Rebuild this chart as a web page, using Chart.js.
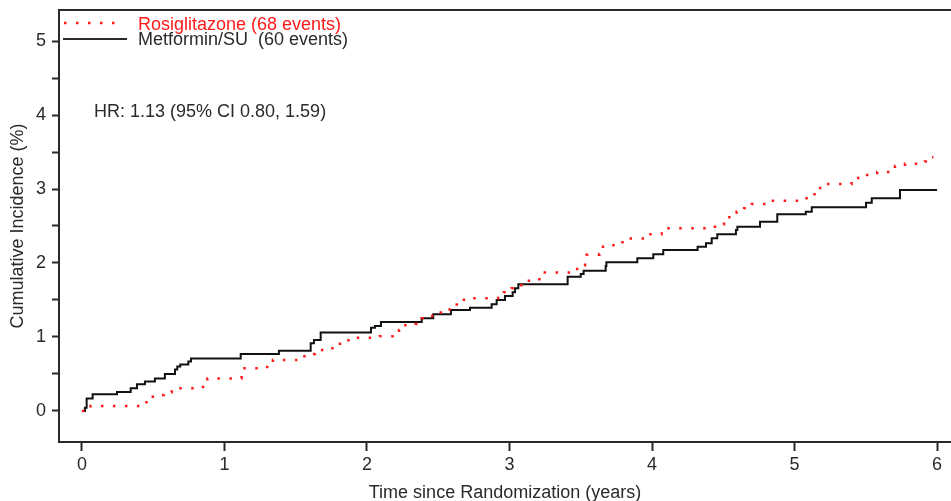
<!DOCTYPE html>
<html>
<head>
<meta charset="utf-8">
<script src="https://cdn.jsdelivr.net/npm/chart.js@4.4.1/dist/chart.umd.min.js"></script>
<style>
    html, body { margin: 0; padding: 0; background: #fff; }
    #wrap { width: 951px; height: 501px; }
</style>
</head>
<body>
<div id="wrap"><canvas id="kmChart" width="951" height="501"></canvas></div>
<script>
// Cumulative incidence by arm (step curves)

const seriesNames = ['Rosiglitazone (68 events)', 'Metformin/SU  (60 events)'];
const hrText = 'HR: 1.13 (95% CI 0.80, 1.59)';
const xTitle = 'Time since Randomization (years)';
const yTitle = 'Cumulative Incidence (%)';

// Rosiglitazone (red dotted)
const rosTimes = [0, 0.06, 0.42, 0.465, 0.52, 0.575, 0.63, 0.85, 0.88, 1.12, 1.30, 1.34,
    1.52, 1.58, 1.635, 1.70, 1.77, 1.81, 1.87, 2.09, 2.18, 2.225, 2.25, 2.34, 2.384, 2.42,
    2.49, 2.58, 2.63, 2.68, 2.92, 2.96, 3.015, 3.05, 3.10, 3.21, 3.45, 3.475, 3.53, 3.54,
    3.63, 3.646, 3.717, 3.78, 3.834, 3.958, 4.068, 4.395, 4.454, 4.505, 4.543, 4.594, 4.646,
    4.70, 4.828, 5.06, 5.12, 5.18, 5.40, 5.447, 5.58, 5.705, 5.775, 5.916, 5.958, 5.975];
const rosValues = [0, 0.068, 0.118, 0.194, 0.216, 0.253, 0.307, 0.365, 0.44, 0.577, 0.635, 0.69,
    0.74, 0.77, 0.825, 0.848, 0.88, 0.93, 0.99, 1.01, 1.03, 1.095, 1.16, 1.175, 1.253, 1.284,
    1.33, 1.41, 1.477, 1.523, 1.554, 1.604, 1.658, 1.70, 1.761, 1.87, 1.89, 1.97, 2.02, 2.11,
    2.12, 2.22, 2.24, 2.28, 2.33, 2.388, 2.469, 2.49, 2.523, 2.58, 2.65, 2.693, 2.739,
    2.797, 2.842, 2.874, 2.928, 3.067, 3.12, 3.19, 3.23, 3.31, 3.34, 3.37, 3.43, 3.43];

// Metformin/SU (black solid)
const metTimes = [0, 0.021, 0.033, 0.075, 0.246, 0.342, 0.386, 0.442, 0.512, 0.582, 0.653,
    0.669, 0.69, 0.746, 0.765, 1.114, 1.382, 1.605, 1.628, 1.675, 2.028, 2.056, 2.098, 2.384,
    2.465, 2.589, 2.723, 2.875, 2.91, 2.968, 3.022, 3.039, 3.062, 3.408, 3.50, 3.52, 3.675,
    3.68, 3.897, 4.009, 4.079, 4.32, 4.379, 4.419, 4.458, 4.589, 4.599, 4.758, 4.879, 5.079,
    5.121, 5.502, 5.542, 5.74, 6.0];
const metValues = [0, 0.045, 0.17, 0.226, 0.257, 0.307, 0.36, 0.40, 0.44, 0.50, 0.56,
    0.60, 0.63, 0.67, 0.71, 0.77, 0.815, 0.915, 0.96, 1.06, 1.126, 1.149, 1.203, 1.253,
    1.307, 1.365, 1.396, 1.442, 1.50, 1.554, 1.604, 1.658, 1.712, 1.815, 1.851, 1.896, 1.96,
    2.01, 2.064, 2.118, 2.176, 2.22, 2.266, 2.334, 2.388, 2.446, 2.49, 2.558, 2.658, 2.693,
    2.753, 2.815, 2.874, 2.986, 2.986];

const xTicks = [0, 1, 2, 3, 4, 5, 6];
const yTicks = [0, 0.5, 1, 1.5, 2, 2.5, 3, 3.5, 4, 4.5, 5];

const FONT = "'Liberation Sans', Arial, sans-serif";
const INK = '#2a2a2a';
const RED = '#ff1a1a';

const toPoints = (xs, ys) => xs.map((x, i) => ({ x: x, y: ys[i] }));

// Top frame line, legend and HR note drawn on the canvas
const annotations = {
    id: 'annotations',
    afterDraw(chart) {
        const { ctx, chartArea } = chart;
        ctx.save();

        ctx.strokeStyle = INK;
        ctx.lineWidth = 2;
        ctx.beginPath();
        ctx.moveTo(chartArea.left - 1, chartArea.top);
        ctx.lineTo(chartArea.right, chartArea.top);
        ctx.stroke();

        // legend samples
        ctx.strokeStyle = RED;
        ctx.lineWidth = 2.5;
        ctx.setLineDash([2.5, 9.5]);
        ctx.beginPath();
        ctx.moveTo(64, 23);
        ctx.lineTo(118, 23);
        ctx.stroke();

        ctx.setLineDash([]);
        ctx.strokeStyle = INK;
        ctx.lineWidth = 2;
        ctx.beginPath();
        ctx.moveTo(63, 39);
        ctx.lineTo(127, 39);
        ctx.stroke();

        ctx.font = `18px ${FONT}`;
        ctx.textBaseline = 'middle';
        ctx.textAlign = 'left';
        ctx.fillStyle = RED;
        ctx.fillText(seriesNames[0], 138, 25);
        ctx.fillStyle = INK;
        ctx.fillText(seriesNames[1], 138, 40);

        ctx.fillText(hrText, 94, 112);
        ctx.restore();
    }
};

const ctx = document.getElementById('kmChart');

new Chart(ctx, {
    type: 'line',
    data: {
        datasets: [
            {
                label: seriesNames[0],
                data: toPoints(rosTimes, rosValues),
                borderColor: RED,
                borderWidth: 2.5,
                borderDash: [2.5, 9.5],
                stepped: 'before',
                pointRadius: 0,
                fill: false
            },
            {
                label: seriesNames[1],
                data: toPoints(metTimes, metValues),
                borderColor: '#111',
                borderWidth: 2,
                stepped: 'before',
                pointRadius: 0,
                fill: false
            }
        ]
    },
    options: {
        responsive: false,
        animation: false,
        layout: {
            padding: { top: 10, right: 0, left: 0, bottom: 0 }
        },
        plugins: {
            legend: { display: false },
            tooltip: { enabled: false }
        },
        scales: {
            x: {
                type: 'linear',
                min: -0.161,
                max: 6.098,
                afterBuildTicks: (scale) => {
                    scale.ticks = xTicks.map(v => ({ value: v }));
                },
                afterFit: (scale) => {
                    scale.height = 59;
                    scale.paddingLeft = 0;
                    scale.paddingRight = 0;
                },
                grid: {
                    drawOnChartArea: false,
                    tickLength: 9,
                    tickWidth: 2,
                    tickColor: INK
                },
                border: { display: true, color: INK, width: 2 },
                ticks: {
                    color: INK,
                    padding: 3,
                    font: { family: FONT, size: 18 },
                    callback: (v) => String(v)
                },
                title: {
                    display: true,
                    text: xTitle,
                    color: INK,
                    padding: { top: 0, bottom: -3 },
                    font: { family: FONT, size: 18 }
                }
            },
            y: {
                type: 'linear',
                min: -0.419,
                max: 5.419,
                afterBuildTicks: (scale) => {
                    scale.ticks = yTicks.map(v => ({ value: v }));
                },
                afterFit: (scale) => {
                    scale.width = 59;
                    scale.paddingTop = 0;
                    scale.paddingBottom = 0;
                },
                grid: {
                    drawOnChartArea: false,
                    tickLength: 7,
                    tickWidth: 2,
                    tickColor: INK
                },
                border: { display: true, color: INK, width: 2 },
                ticks: {
                    color: INK,
                    padding: 6,
                    font: { family: FONT, size: 18 },
                    callback: (v) => Number.isInteger(v) ? String(v) : ''
                },
                title: {
                    display: true,
                    text: yTitle,
                    color: INK,
                    padding: { top: 7, bottom: 0 },
                    font: { family: FONT, size: 18 }
                }
            }
        }
    },
    plugins: [annotations]
});
</script>
</body>
</html>
